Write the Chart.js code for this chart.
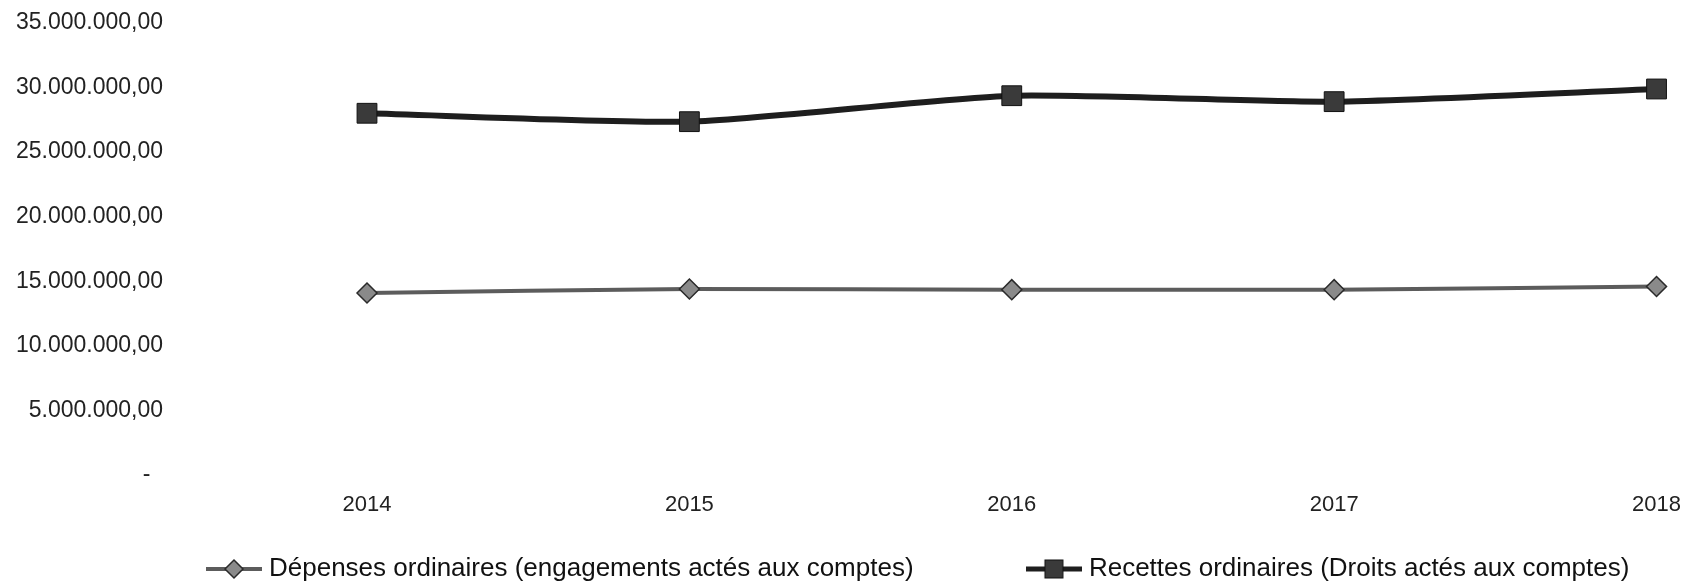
<!DOCTYPE html>
<html>
<head>
<meta charset="utf-8">
<script src="https://cdn.jsdelivr.net/npm/chart.js@4.4.1/dist/chart.umd.min.js"></script>
<style>
  html, body { margin: 0; padding: 0; background: #fff; }
  #wrap { width: 1698px; height: 587px; }
</style>
</head>
<body>
<div id="wrap"><canvas id="chart"></canvas></div>
<script>
const years = ["2014", "2015", "2016", "2017", "2018"];
const depenses = [14090000, 14400000, 14350000, 14350000, 14600000];
const recettes = [28010000, 27360000, 29370000, 28910000, 29890000];
const seriesNames = [
  "Dépenses ordinaires (engagements actés aux comptes)",
  "Recettes ordinaires (Droits actés aux comptes)"
];

// format comptable belge : 35.000.000,00 et "-" pour zéro
function fmt(v) {
  if (v === 0) return "-  ";
  return v.toFixed(2).replace(".", ",").replace(/\B(?=(\d{3})+(?!\d))/g, ".");
}

function legendIcon(lineColor, lineW, marker) {
  const c = document.createElement("canvas");
  c.width = 56;
  c.height = 22;
  const g = c.getContext("2d");
  g.strokeStyle = lineColor;
  g.lineWidth = lineW;
  g.beginPath();
  g.moveTo(0, 11);
  g.lineTo(56, 11);
  g.stroke();
  marker(g, 28, 11);
  return c;
}

const icons = [
  legendIcon("#5c5c5c", 4, (g, x, y) => {
    g.beginPath();
    g.moveTo(x, y - 9); g.lineTo(x + 9, y); g.lineTo(x, y + 9); g.lineTo(x - 9, y);
    g.closePath();
    g.fillStyle = "#8a8a8a"; g.fill();
    g.strokeStyle = "#2a2a2a"; g.lineWidth = 1.5; g.stroke();
  }),
  legendIcon("#1e1e1e", 5, (g, x, y) => {
    g.fillStyle = "#3a3a3a";
    g.fillRect(x - 9, y - 9, 18, 18);
    g.strokeStyle = "#111"; g.lineWidth = 1;
    g.strokeRect(x - 9, y - 9, 18, 18);
  })
];

const font = "'Liberation Sans', Arial, sans-serif";

new Chart(document.getElementById("chart"), {
  type: "line",
  data: {
    labels: years,
    datasets: [
      {
        label: seriesNames[0],
        data: depenses,
        borderColor: "#5c5c5c",
        borderWidth: 4,
        tension: 0.2,
        pointStyle: "rectRot",
        pointRadius: 10,
        pointBackgroundColor: "#8a8a8a",
        pointBorderColor: "#2a2a2a",
        pointBorderWidth: 1.5,
        clip: false
      },
      {
        label: seriesNames[1],
        data: recettes,
        borderColor: "#1e1e1e",
        borderWidth: 6,
        tension: 0.2,
        pointStyle: "rect",
        pointRadius: 14,
        pointBackgroundColor: "#3a3a3a",
        pointBorderColor: "#111",
        pointBorderWidth: 1,
        clip: false
      }
    ]
  },
  options: {
    responsive: true,
    maintainAspectRatio: false,
    devicePixelRatio: 1,
    animation: false,
    layout: {padding: {left: 202, right: 31, top: 23, bottom: -5}},
    scales: {
      x: {
        offset: false,
        grid: {display: false, drawTicks: false},
        border: {display: false},
        ticks: {color: "#222", font: {family: font, size: 22}, padding: 17, maxRotation: 0, autoSkip: false},
        afterFit: (s) => { s.height = 71; }
      },
      y: {
        min: 0,
        max: 35000000,
        grid: {display: false, drawTicks: false},
        border: {display: false},
        // libellés placés à gauche, alignés à droite vers x=163
        ticks: {
          stepSize: 5000000, color: "#222", font: {family: font, size: 23},
          mirror: true, crossAlign: "far", padding: -351,
          callback: (v) => fmt(v)
        },
        afterFit: (s) => { s.width = 165; }
      }
    },
    plugins: {
      legend: {
        position: "bottom",
        align: "start",
        labels: {
          usePointStyle: true,
          pointStyleWidth: 44,
          padding: 10,
          color: "#111",
          font: {family: font, size: 26},
          generateLabels: (chart) => chart.data.datasets.map((ds, i) => ({
            text: i === 0 ? ds.label + " ".repeat(15) : ds.label,
            pointStyle: icons[i],
            fontColor: "#111",
            fillStyle: "transparent",
            strokeStyle: "transparent",
            lineWidth: 0,
            hidden: !chart.isDatasetVisible(i),
            datasetIndex: i
          }))
        }
      },
      tooltip: {enabled: false}
    }
  }
});
</script>
</body>
</html>
